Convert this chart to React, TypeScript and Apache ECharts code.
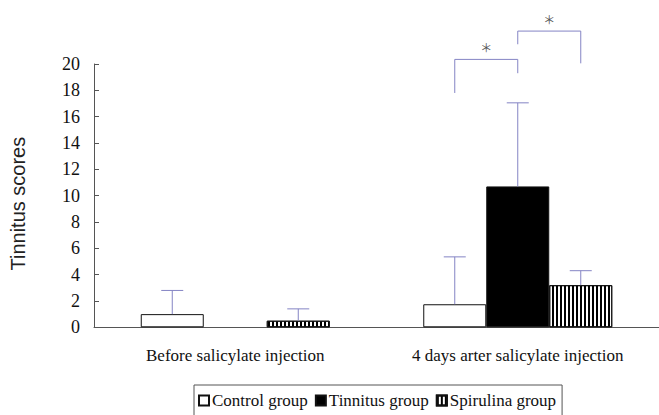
import React, { useEffect, useRef } from "react";
import * as echarts from "echarts";

const categories = ["Before salicylate injection", "4 days arter salicylate injection"];
const seriesNames = ["Control group", "Tinnitus group", "Spirulina group"];
const controlMean = [1.0, 1.75];
const controlSD = [1.8, 3.6];
const tinnitusMean: (number | null)[] = [null, 10.7];
const tinnitusSD: (number | null)[] = [null, 6.35];
const spirulinaMean = [0.5, 3.2];
const spirulinaSD = [0.9, 1.1];
const yTicks = { min: 0, max: 20, interval: 2 };
// significance brackets: [category, fromSeries, toSeries, topValue, leftLegEnd, rightLegEnd]
const brackets = [
  [1, 0, 1, 20.35, 17.8, 19.3],
  [1, 1, 2, 22.5, 21.5, 20.05],
];

const BAR_W = 63;
const SERIF = '"Liberation Serif", "Times New Roman", serif';
const ERR_COLOR = "#8484c4";

export default function App() {
  const ref = useRef<HTMLDivElement>(null);
  useEffect(() => {
    if (!ref.current) return;
    const chart = echarts.init(ref.current, undefined, { renderer: "svg" });
    const means = [controlMean, tinnitusMean, spirulinaMean];
    const sds = [controlSD, tinnitusSD, spirulinaSD];
    const errData: number[][] = [];
    means.forEach((m, k) =>
      m.forEach((v, i) => {
        const sd = sds[k][i];
        if (v != null && sd != null) errData.push([i, v, sd, k]);
      })
    );
    const option: any = {
      animation: false,
      backgroundColor: "#fff",
      grid: { left: 94, top: 64, width: 568, bottom: 87.7 },
      legend: {
        data: seriesNames.map((n) => ({ name: n, icon: "rect" })),
        left: 194,
        top: 385,
        orient: "horizontal",
        borderColor: "#555",
        borderWidth: 1,
        padding: [7, 6, 12, 4],
        itemWidth: 10,
        itemHeight: 10,
        itemGap: 7,
        textStyle: { fontFamily: SERIF, fontSize: 17, color: "#111", padding: [0, 0, 0, -2] },
      },
      xAxis: {
        type: "category",
        data: categories,
        axisLine: { lineStyle: { color: "#555", width: 1 } },
        axisTick: { show: false },
        axisLabel: { fontFamily: SERIF, fontSize: 17, color: "#111", margin: 20 },
      },
      yAxis: {
        type: "value",
        min: yTicks.min,
        max: yTicks.max,
        interval: yTicks.interval,
        name: "Tinnitus scores",
        nameLocation: "middle",
        nameGap: 66,
        nameTextStyle: {
          fontFamily: '"Liberation Sans", Arial, sans-serif',
          fontSize: 20,
          color: "#222",
          padding: [0, 16, 0, 0],
        },
        axisLine: { show: true, lineStyle: { color: "#555", width: 1 } },
        axisTick: { show: true, inside: true, length: 5, lineStyle: { color: "#555" } },
        axisLabel: { fontFamily: SERIF, fontSize: 18, color: "#111", margin: 14 },
        splitLine: { show: false },
      },
      series: [
        {
          name: seriesNames[0],
          type: "bar",
          data: controlMean,
          barWidth: BAR_W,
          barGap: "0%",
          itemStyle: { color: "#fff", borderColor: "#111", borderWidth: 1 },
        },
        {
          name: seriesNames[1],
          type: "bar",
          data: tinnitusMean,
          barWidth: BAR_W,
          barGap: "0%",
          itemStyle: { color: "#000", borderColor: "#111", borderWidth: 1 },
        },
        {
          name: seriesNames[2],
          type: "bar",
          data: spirulinaMean,
          barWidth: BAR_W,
          barGap: "0%",
          itemStyle: {
            color: "#fff",
            borderColor: "#111",
            borderWidth: 1,
            decal: {
              symbol: "rect",
              symbolSize: 1,
              color: "#000",
              backgroundColor: "#fff",
              dashArrayX: [2, 1.7],
              dashArrayY: [10, 0],
              rotation: 0,
            },
          },
        },
        {
          name: "err",
          type: "custom",
          clip: false,
          z: 5,
          data: errData,
          renderItem: (params: any, api: any) => {
            const i = api.value(0);
            const m = api.value(1);
            const sd = api.value(2);
            const k = api.value(3);
            const p0 = api.coord([i, m]);
            const p1 = api.coord([i, m + sd]);
            const x = p0[0] + (k - 1) * BAR_W;
            return {
              type: "group",
              children: [
                { type: "line", shape: { x1: x, y1: p0[1], x2: x, y2: p1[1] }, style: { stroke: ERR_COLOR, lineWidth: 1 } },
                { type: "line", shape: { x1: x - 11, y1: p1[1], x2: x + 11, y2: p1[1] }, style: { stroke: ERR_COLOR, lineWidth: 1 } },
              ],
            };
          },
        },
        {
          name: "sig",
          type: "custom",
          clip: false,
          z: 5,
          data: brackets,
          renderItem: (params: any, api: any) => {
            const i = api.value(0);
            const a = api.value(1);
            const b = api.value(2);
            const top = api.coord([i, api.value(3)]);
            const le = api.coord([i, api.value(4)]);
            const re = api.coord([i, api.value(5)]);
            const xl = top[0] + (a - 1) * BAR_W;
            const xr = top[0] + (b - 1) * BAR_W;
            return {
              type: "group",
              children: [
                {
                  type: "polyline",
                  shape: { points: [[xl, le[1]], [xl, top[1]], [xr, top[1]], [xr, re[1]]] },
                  style: { stroke: ERR_COLOR, lineWidth: 1, fill: "none" },
                },
                {
                  type: "text",
                  style: {
                    text: "＊",
                    x: (xl + xr) / 2,
                    y: top[1] - 12,
                    align: "center",
                    verticalAlign: "middle",
                    fontSize: 12,
                    fontFamily: '"Noto Sans CJK SC", sans-serif',
                    fill: "#555",
                  },
                },
              ],
            };
          },
        },
      ],
    };
    chart.setOption(option);
    return () => chart.dispose();
  }, []);
  return <div ref={ref} style={{ width: 659, height: 415, position: "absolute", left: 0, top: 0 }} />;
}
